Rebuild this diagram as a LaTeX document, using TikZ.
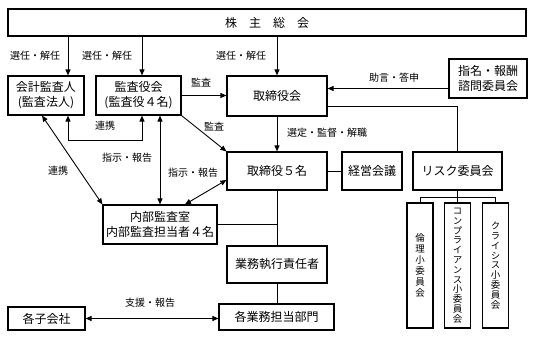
\documentclass[tikz,border=0pt]{standalone}
\usepackage{fontspec}
\newfontfamily\jp{Noto Sans CJK JP}
\newfontfamily\jpv[RawFeature=+vert]{Noto Sans CJK JP}
\usetikzlibrary{arrows.meta, calc}

\begin{document}
\begin{tikzpicture}[x=1pt, y=-1pt, font=\jp\fontsize{12}{15}\selectfont,
    box/.style={draw, line width=1.2pt, align=center, inner sep=0pt},
    vbox/.style={box, minimum width=26, minimum height=125,
      font=\jpv\fontsize{9.5}{9.8}\selectfont},
    lbl/.style={font=\jp\fontsize{10}{11}\selectfont, inner sep=1pt},
    conn/.style={line width=0.9pt},
    arr/.style={conn, -{Triangle[length=6pt,width=5pt]}},
    darr/.style={conn, {Triangle[length=6pt,width=5pt]}-{Triangle[length=6pt,width=5pt]}}]
  \useasboundingbox (0,0) rectangle (533,337);

  % boxes
  \node[box, minimum width=518, minimum height=27] (kabunushi) at (267,22.5) {株　主　総　会};
  \node[box, minimum width=76, minimum height=39] (kaikei) at (46,95.5) {会計監査人\\(監査法人)};
  \node[box, minimum width=85, minimum height=39] (kansayaku) at (138.5,95.5) {監査役会\\(監査役４名)};
  \node[box, minimum width=100, minimum height=40] (torikai) at (277,96) {取締役会};
  \node[box, minimum width=78, minimum height=39] (shimei) at (488,78.5) {指名・報酬\\諮問委員会};
  \node[box, minimum width=100, minimum height=38] (torishi) at (277,171) {取締役５名};
  \node[box, minimum width=60, minimum height=38] (keiei) at (372,171) {経営会議};
  \node[box, minimum width=89, minimum height=38] (risk) at (457.5,171) {リスク委員会};
  \node[vbox, font=\jpv\fontsize{9.5}{11}\selectfont] (rinri) at (420,265.5) {倫\\理\\小\\委\\員\\会};
  \node[vbox] (compl) at (457.5,265.5) {コ\\ン\\プ\\ラ\\イ\\ア\\ン\\ス\\小\\委\\員\\会};
  \node[vbox] (crisis) at (495.5,265.5) {ク\\ラ\\イ\\シ\\ス\\小\\委\\員\\会};
  \node[box, minimum width=114, minimum height=39] (naibu) at (160,224.5) {内部監査室\\内部監査担当者４名};
  \node[box, minimum width=100, minimum height=37] (gyomu) at (277,264.5) {業務執行責任者};
  \node[box, minimum width=115, minimum height=26] (bumon) at (276.5,317) {各業務担当部門};
  \node[box, minimum width=77, minimum height=23] (kogaisha) at (46.5,318.5) {各子会社};

  % connectors
  \coordinate (k1) at ([xshift=22pt]kaikei.north);
  \coordinate (k2) at ([xshift=3.5pt]kansayaku.north);
  \draw[arr] (kabunushi.south -| k1) -- (k1);
  \draw[arr] (kabunushi.south -| k2) -- (k2);
  \draw[arr] (kabunushi.south -| torikai.north) -- (torikai.north);
  \draw[darr] (k1 |- kaikei.south) -- ++(0,25) -| (k2 |- kansayaku.south);
  \draw[arr] (kansayaku.east) -- (kansayaku.east -| torikai.west);
  \coordinate (s1) at ([yshift=-10pt]shimei.west);
  \draw[arr] (s1) -- (s1 -| torikai.east);
  \draw[conn] ([yshift=-10.5pt]torikai.east) -| (risk.north);
  \draw[arr] (torikai.south) -- (torishi.north);
  \draw[conn] (torishi.east) -- (keiei.west);
  \draw[arr] (kansayaku.south east) -- (torishi.north west);
  \draw[darr] ([xshift=-4pt]kaikei.south) -- (naibu.north west);
  \draw[darr] (kansayaku.south -| naibu.north) -- (naibu.north);
  \draw[darr] ([yshift=-9pt]torishi.west) -- ([xshift=25pt]naibu.north);
  \draw[conn] (torishi.south) -- (gyomu.north);
  \draw[conn] (naibu.east) -- (naibu.east -| torishi.south);
  \draw[conn] (gyomu.south) -- (gyomu.south |- bumon.north);
  \draw[darr] (kogaisha.east) -- (kogaisha.east -| bumon.west);
  \coordinate (rj) at ([yshift=-7pt]risk.south);
  \draw[conn] (risk.south) -- (compl.north);
  \draw[conn] (rinri.north) -- (rinri.north |- rj) -- (crisis.north |- rj) -- (crisis.north);

  % labels
  \node[lbl] (sen1) at (35,56) {選任・解任};
  \node[lbl] (sen2) at (107,56) {選任・解任};
  \node[lbl] (sen3) at (241,56) {選任・解任};
  \node[lbl] (kansa1) at (201,83) {監査};
  \node[lbl] (kansa2) at (214,127) {監査};
  \node[lbl] (jogen) at (394,78) {助言・答申};
  \node[lbl] (renkei1) at (105,126) {連携};
  \node[lbl] (renkei2) at (58,171) {連携};
  \node[lbl] (shiji1) at (127,158) {指示・報告};
  \node[lbl] (shiji2) at (193,173) {指示・報告};
  \node[lbl, anchor=west] (sentei) at (286,133) {選定・監督・解職};
  \node[lbl] (shien) at (150,303) {支援・報告};
\end{tikzpicture}
\end{document}
